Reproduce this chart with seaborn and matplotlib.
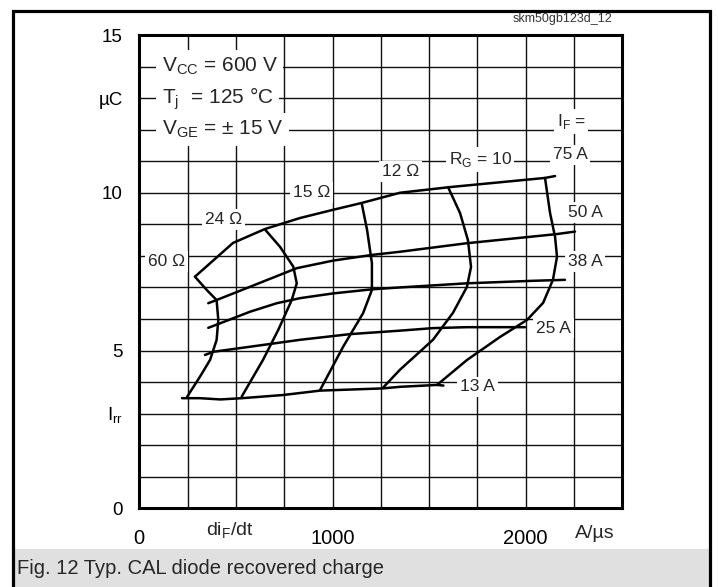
import numpy as np
import pandas as pd
import seaborn as sns
import matplotlib.pyplot as plt
from matplotlib.patches import Rectangle

# Kurven I_F = const  (di_F/dt in A/us, Q_rr in uC)
if75_x = [288, 485, 650, 832, 1003, 1153, 1349, 1608, 2100, 2152]
if75_y = [7.34, 8.41, 8.85, 9.20, 9.46, 9.68, 10.00, 10.18, 10.47, 10.53]
if50_x = [357, 400, 573, 815, 1003, 1204, 1349, 1694, 2160, 2255]
if50_y = [6.50, 6.60, 7.02, 7.61, 7.85, 8.03, 8.13, 8.40, 8.69, 8.77]
if38_x = [357, 409, 573, 712, 832, 1003, 1204, 1349, 1694, 2037, 2203]
if38_y = [5.72, 5.84, 6.23, 6.50, 6.66, 6.81, 6.94, 7.00, 7.13, 7.21, 7.24]
if25_x = [340, 383, 573, 832, 1091, 1349, 1520, 1694, 1996]
if25_y = [4.86, 4.96, 5.12, 5.34, 5.52, 5.63, 5.71, 5.74, 5.74]
if13_x = [221, 314, 419, 532, 744, 936, 1261, 1349, 1541, 1574]
if13_y = [3.49, 3.49, 3.45, 3.49, 3.59, 3.73, 3.80, 3.85, 3.91, 3.89]

# Kurven R_G = const
rg60_x = [288, 349, 400, 409, 400, 366, 314, 248]
rg60_y = [7.34, 6.92, 6.60, 5.97, 5.33, 4.70, 4.17, 3.54]
rg24_x = [650, 728, 797, 815, 789, 719, 640, 530]
rg24_y = [8.84, 8.29, 7.66, 7.13, 6.60, 5.65, 4.70, 3.54]
rg15_x = [1151, 1179, 1204, 1204, 1158, 1055, 936]
rg15_y = [9.67, 8.82, 7.77, 6.92, 6.18, 5.12, 3.75]
rg12_x = [1598, 1660, 1701, 1717, 1696, 1624, 1520, 1349, 1261]
rg12_y = [10.18, 9.36, 8.50, 7.65, 7.02, 6.20, 5.34, 4.39, 3.82]
rg10_x = [2100, 2126, 2152, 2162, 2141, 2090, 2007, 1867, 1696, 1541]
rg10_y = [10.47, 9.36, 8.60, 7.97, 7.24, 6.51, 5.97, 5.43, 4.70, 3.91]

curves = {
    "IF75": (if75_x, if75_y), "IF50": (if50_x, if50_y), "IF38": (if38_x, if38_y),
    "IF25": (if25_x, if25_y), "IF13": (if13_x, if13_y),
    "RG60": (rg60_x, rg60_y), "RG24": (rg24_x, rg24_y), "RG15": (rg15_x, rg15_y),
    "RG12": (rg12_x, rg12_y), "RG10": (rg10_x, rg10_y),
}
rows = []
for name, (xs, ys) in curves.items():
    for i, (x, y) in enumerate(zip(xs, ys)):
        rows.append({"curve": name, "order": i, "didt": x, "qrr": y})
df = pd.DataFrame(rows)

x_ticks = list(range(0, 2501, 250))
x_ticklabels = {0: "0", 1000: "1000", 2000: "2000"}
y_ticks = list(range(0, 16))
y_ticklabels = {0: "0", 3: r"I$_\mathregular{rr}$", 5: "5", 10: "10", 13: "µC", 15: "15"}

sns.set_theme(style="white")
plt.rcParams["font.family"] = ["Liberation Sans", "DejaVu Sans"]
plt.rcParams["mathtext.fontset"] = "custom"
plt.rcParams["mathtext.rm"] = "Liberation Sans"

fig = plt.figure(figsize=(7.18, 5.87), dpi=100)
# grauer Balken für die Bildunterschrift (hinter allem)
fig.patches.append(Rectangle((13 / 718, 0), (710 - 13) / 718, (587 - 549) / 587,
                             transform=fig.transFigure, facecolor="#e0e0e0",
                             edgecolor="none", zorder=-5))

ax = fig.add_axes([139.3 / 718, 1 - 508.3 / 587, (622.3 - 139.3) / 718, (508.3 - 35) / 587])

sns.lineplot(data=df, x="didt", y="qrr", units="curve", estimator=None, sort=False,
             color="black", lw=1.8, ax=ax, zorder=3)

ax.set_xlim(0, 2500)
ax.set_ylim(0, 15)
ax.set_xticks(x_ticks)
ax.set_xticklabels([x_ticklabels.get(t, "") for t in x_ticks])
ax.set_yticks(y_ticks)
ax.set_yticklabels([y_ticklabels.get(t, "") for t in y_ticks])
ax.tick_params(axis="both", length=0, colors="black")
ax.tick_params(axis="x", pad=15, labelsize=14.5)
ax.tick_params(axis="y", pad=12, labelsize=13.5)
ax.grid(True, color="#111111", lw=1.0, zorder=0)
ax.set_axisbelow(True)
for s in ax.spines.values():
    s.set_color("black")
    s.set_linewidth(2.2)
ax.set_xlabel("")
ax.set_ylabel("")

# Achsbeschriftungen zwischen den Ticks
ax.text(470, -0.72, r"di$_\mathregular{F}$/dt", fontsize=14, ha="center", va="center", clip_on=False)
ax.text(2359, -0.8, "A/µs", fontsize=14, ha="center", va="center", clip_on=False)

box = dict(facecolor="white", edgecolor="none", pad=4)
box2 = dict(facecolor="white", edgecolor="none", pad=2)
# Bedingungen
ax.text(116, 14, r"V$_\mathregular{CC}$ = 600 V", fontsize=15, va="center", ha="left", bbox=box, zorder=4)
ax.text(116, 13, r"T$_\mathregular{j}$  = 125 °C", fontsize=15, va="center", ha="left", bbox=box, zorder=4)
ax.text(116, 12, r"V$_\mathregular{GE}$ = ± 15 V", fontsize=15, va="center", ha="left", bbox=box, zorder=4)

# Kurvenbeschriftungen
lbl = [
    (r"I$_\mathregular{F}$ =", 2235, 12.25),
    ("75 A", 2230, 11.2),
    ("50 A", 2307, 9.38),
    ("38 A", 2307, 7.82),
    ("25 A", 2143, 5.71),
    ("13 A", 1750, 3.85),
    (r"R$_\mathregular{G}$ = 10", 1764, 11.06),
    ("12 Ω", 1354, 10.67),
    ("15 Ω", 892, 10.0),
    ("24 Ω", 435, 9.16),
    ("60 Ω", 142, 7.82),
]
for txt, x, y in lbl:
    ax.text(x, y, txt, fontsize=12.5, ha="center", va="center", bbox=box2, zorder=4)

# Rahmen, Kennung und Bildunterschrift
fig.patches.append(Rectangle((13 / 718, -0.05), (710 - 13) / 718, 1.05 - 11 / 587,
                             transform=fig.transFigure, fill=False,
                             edgecolor="black", lw=2.3, zorder=5))
fig.text(563 / 718, 1 - 19 / 587, "skm50gb123d_12", fontsize=9, color="#333333",
         ha="center", va="center")
fig.text(17 / 718, 1 - 568 / 587, "Fig. 12 Typ. CAL diode recovered charge",
         fontsize=14.5, ha="left", va="center")

fig.savefig("out.png", dpi=100)
